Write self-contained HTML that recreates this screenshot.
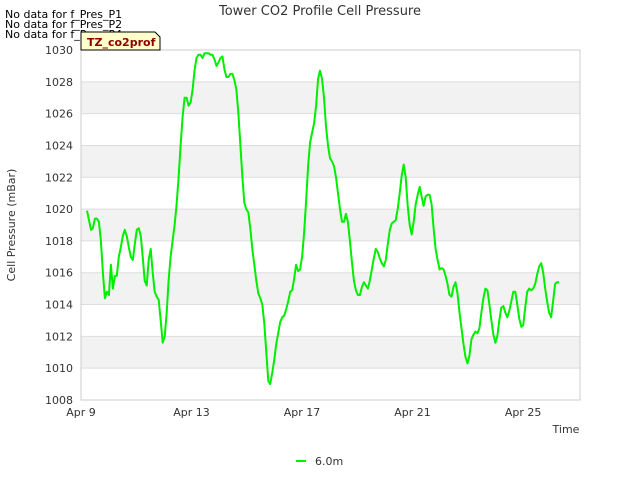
<!DOCTYPE html>
<html><head><meta charset="utf-8"><style>
body{margin:0;background:#fff;font-family:"Liberation Sans","DejaVu Sans",sans-serif}
svg text{font-family:"DejaVu Sans","Liberation Sans",sans-serif}
</style></head><body>
<svg id="c" width="640" height="480" xmlns="http://www.w3.org/2000/svg">
<text x="320" y="15" text-anchor="middle" font-size="13" fill="#333">Tower CO2 Profile Cell Pressure</text>
<text x="5" y="18" font-size="11" fill="#000">No data for f_Pres_P1</text>
<text x="5" y="28" font-size="11" fill="#000">No data for f_Pres_P2</text>
<text x="5" y="38" font-size="11" fill="#000">No data for f_Pres_P4</text>
<g id="plot"></g>
<g>
<path d="M81,32 L155,32 L160,37 L160,50 L81,50 Z" fill="#ffffcc" stroke="#000" stroke-width="1"/>
<text x="87" y="46" font-size="11" font-weight="bold" fill="#8b0000">TZ_co2prof</text>
</g>
<text x="15" y="225" transform="rotate(-90 15 225)" text-anchor="middle" font-size="11" fill="#333">Cell Pressure (mBar)</text>
<text x="566" y="433" text-anchor="middle" font-size="11" fill="#333">Time</text>
<line x1="296" y1="461" x2="306" y2="461" stroke="#00ee00" stroke-width="2"/>
<text x="315" y="465" font-size="11" fill="#333">6.0m</text>
</svg>
<script>
const yTicks=[1008,1010,1012,1014,1016,1018,1020,1022,1024,1026,1028,1030];
const xTickDays=[0,4,8,12,16];
const xTickLabels=["Apr 9","Apr 13","Apr 17","Apr 21","Apr 25"];
const startDay=0.216;
const intervalDays=0.0721;
const pressure=[1019.9,1019.3,1018.7,1018.8,1019.4,1019.4,1019.2,1018,1016,1014.4,1014.8,1014.6,1016.5,
1015,1015.8,1015.8,1017,1017.6,1018.3,1018.7,1018.3,1017.6,1017,1016.8,1017.8,1018.7,1018.8,1018.3,1017,1015.5,1015.2,1016.8,1017.5,1016,1014.8,1014.5,1014.3,1013,1011.6,1012,1013.5,1015.5,1017,1018,1019,1020.3,1022,1024,1025.8,1027,1027,1026.5,1026.7,1027.5,1028.7,1029.5,1029.7,1029.7,1029.5,1029.8,1029.8,1029.8,1029.7,1029.7,1029.4,1029,1029.2,1029.5,1029.6,1028.8,1028.3,1028.3,1028.5,1028.5,1028.1,1027.5,1026,1024,1022,1020.4,1020,1019.8,1018.8,1017.5,1016.5,1015.5,1014.7,1014.4,1014,1012.8,1011,1009.2,1009,1009.7,1010.5,1011.5,1012.2,1012.9,1013.2,1013.3,1013.7,1014.2,1014.8,1014.9,1015.6,1016.5,1016.1,1016.2,1017,1018.5,1020.5,1022.7,1024.2,1024.8,1025.4,1026.5,1028.2,1028.7,1028.2,1027,1025.2,1024,1023.2,1023,1022.7,1022,1021,1020,1019.2,1019.2,1019.7,1019.2,1018,1016.7,1015.5,1014.9,1014.6,1014.6,1015.1,1015.4,1015.2,1015,1015.5,1016.2,1016.9,1017.5,1017.3,1016.9,1016.6,1016.4,1016.8,1017.8,1018.7,1019.1,1019.2,1019.3,1020,1021,1022.1,1022.8,1022,1020.2,1019,1018.4,1019.2,1020.3,1020.9,1021.4,1020.8,1020.2,1020.8,1020.9,1020.9,1020.3,1018.8,1017.5,1016.8,1016.2,1016.3,1016.2,1015.8,1015.3,1014.6,1014.5,1015.1,1015.4,1014.7,1013.5,1012.5,1011.5,1010.7,1010.3,1010.8,1011.8,1012.1,1012.3,1012.2,1012.5,1013.5,1014.4,1015,1014.9,1014,1013,1012.1,1011.6,1012,1013,1013.8,1013.9,1013.5,1013.2,1013.6,1014.2,1014.8,1014.8,1014,1013.1,1012.6,1012.7,1013.8,1014.8,1015,1014.9,1015,1015.3,1015.9,1016.4,1016.6,1016,1015,1014.2,1013.5,1013.2,1014.2,1015.3,1015.4,1015.4];

const L=81,R=580,T=50,B=400,NS="http://www.w3.org/2000/svg";
const pxPerDay=27.63;
function xs(d){return L+d*pxPerDay;}
function ys(v){return B-(v-1008)/(1030-1008)*(B-T);}
const g=document.getElementById('plot');
function el(t,a){const e=document.createElementNS(NS,t);for(const k in a)e.setAttribute(k,a[k]);g.appendChild(e);return e;}
for(let i=0;i<yTicks.length-1;i++){
  if(i%2===1){const r=el('rect',{x:L,y:ys(yTicks[i+1]),width:R-L,height:ys(yTicks[i])-ys(yTicks[i+1]),fill:'#f2f2f2'});
  
  }
}
yTicks.forEach(v=>{
  const l=el('line',{x1:L,x2:R,y1:ys(v),y2:ys(v),stroke:'#dddddd','stroke-width':1});
  
  
  const t=el('text',{x:L-8,y:ys(v)+4,'text-anchor':'end','font-size':11,fill:'#333'});
  t.textContent=v;
  
  
});
const fr=el('rect',{x:L,y:T,width:R-L,height:B-T,fill:'none',stroke:'#cccccc'});


xTickDays.forEach((d,i)=>{
  const t=el('text',{x:xs(d),y:B+16,'text-anchor':'middle','font-size':11,fill:'#333'});
  t.textContent=xTickLabels[i];
  
  
});
const pts=pressure.map((v,i)=>xs(startDay+i*intervalDays).toFixed(1)+','+ys(v).toFixed(1)).join(' ');
const pl=el('polyline',{points:pts,fill:'none',stroke:'#00ee00','stroke-width':2,'stroke-linejoin':'round'});


</script>
</body></html>
